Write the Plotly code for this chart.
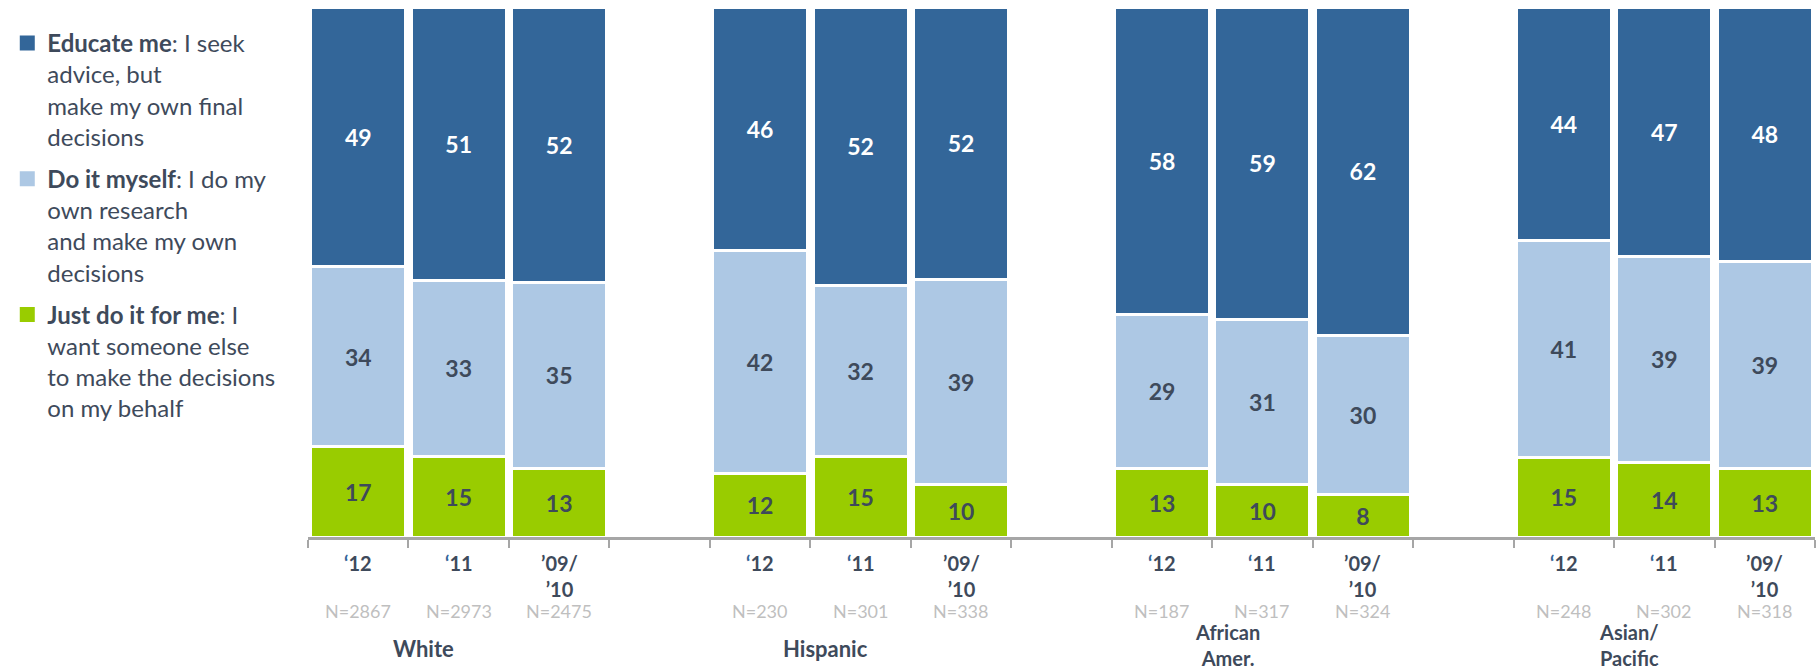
import plotly.graph_objects as go

groups = ["White", "Hispanic", "African<br>Amer.", "Asian/<br>Pacific"]
years = ["<span style='color:#336699'>‘</span>12",
         "<span style='color:#336699'>‘</span>11",
         "’09/<br>’10"]
n_labels = [["N=2867", "N=2973", "N=2475"],
            ["N=230", "N=301", "N=338"],
            ["N=187", "N=317", "N=324"],
            ["N=248", "N=302", "N=318"]]

just_do_it = [17, 15, 13, 12, 15, 10, 13, 10, 8, 15, 14, 13]
do_it_myself = [34, 33, 35, 42, 32, 39, 29, 31, 30, 41, 39, 39]
educate_me = [49, 51, 52, 46, 52, 52, 58, 59, 62, 44, 47, 48]

series = [
    ("<b>Just do it for me</b>: I<br>want someone else<br>to make the decisions<br>on my behalf",
     just_do_it, "#99CC00", "#3E4A5B"),
    ("<b>Do it myself</b>: I do my<br>own research<br>and make my own<br>decisions",
     do_it_myself, "#ADC8E4", "#3E4A5B"),
    ("<b>Educate me</b>: I seek<br>advice, but<br>make my own final<br>decisions",
     educate_me, "#336699", "#FFFFFF"),
]

FONT = "Lato"
DARK = "#3E4A5B"

# x positions: 3 bars per group, one empty slot between groups
xpos = [g * 4 + j for g in range(len(groups)) for j in range(len(years))]

fig = go.Figure()
for name, vals, color, tcolor in series:
    fig.add_trace(go.Bar(
        x=xpos, y=vals, name=name, showlegend=False,
        marker=dict(color=color, line=dict(color="white", width=3)),
        text=[str(v) for v in vals], textposition="inside",
        insidetextanchor="middle",
        textfont=dict(family=FONT, size=23, color=tcolor, weight="bold"),
        hoverinfo="skip",
    ))
# legend-only entries (square swatches), top series first
for i, (name, vals, color, tcolor) in enumerate(reversed(series)):
    fig.add_trace(go.Scatter(
        x=[None], y=[None], mode="markers", name=name, legendgroup=f"g{i}",
        marker=dict(symbol="square", size=15, color=color),
        hoverinfo="skip",
    ))

annotations = []
for g in range(len(groups)):
    for j in range(len(years)):
        x = g * 4 + j
        annotations.append(dict(
            x=x, y=0, xref="x", yref="y", yanchor="top", yshift=-12,
            text="<b>" + years[j] + "</b>", showarrow=False,
            font=dict(family=FONT, size=20, color=DARK)))
        annotations.append(dict(
            x=x, y=0, xref="x", yref="y", yanchor="middle", yshift=-74,
            text=n_labels[g][j], showarrow=False,
            font=dict(family=FONT, size=18, color="#BFBFBF")))
    if "<br>" in groups[g]:
        grp = dict(yanchor="bottom", yshift=-134, font=dict(family=FONT, size=20, color=DARK))
    else:
        grp = dict(yanchor="middle", yshift=-111, font=dict(family=FONT, size=22, color=DARK))
    annotations.append(dict(
        x=g * 4 + 0.65, y=0, xref="x", yref="y", borderpad=0,
        text="<b>" + groups[g] + "</b>", showarrow=False, **grp))

fig.update_layout(
    width=1820, height=672,
    barmode="stack", barnorm="percent", bargap=0.055,
    plot_bgcolor="white", paper_bgcolor="white",
    margin=dict(l=308, r=5, t=7, b=135, autoexpand=False),
    font=dict(family=FONT, color=DARK),
    showlegend=True,
    legend=dict(
        xref="container", yref="container", x=0.004, y=0.969, xanchor="left", yanchor="top",
        traceorder="grouped", valign="top", maxheight=672, tracegroupgap=8,
        font=dict(family=FONT, size=24, color=DARK),
    ),
    xaxis=dict(
        range=[-0.5, 14.5], tickvals=[k - 0.5 for k in range(16)], ticktext=[""] * 16,
        ticks="outside", ticklen=8, tickwidth=2, tickcolor="#A6A6A6",
        showline=True, linecolor="#A6A6A6", linewidth=3, showgrid=False, zeroline=False,
        fixedrange=True,
    ),
    yaxis=dict(range=[0, 100], visible=False, fixedrange=True),
    annotations=annotations,
)

fig.write_html("out.html", config={"displayModeBar": False},
               post_script="document.body.style.margin='0';")
